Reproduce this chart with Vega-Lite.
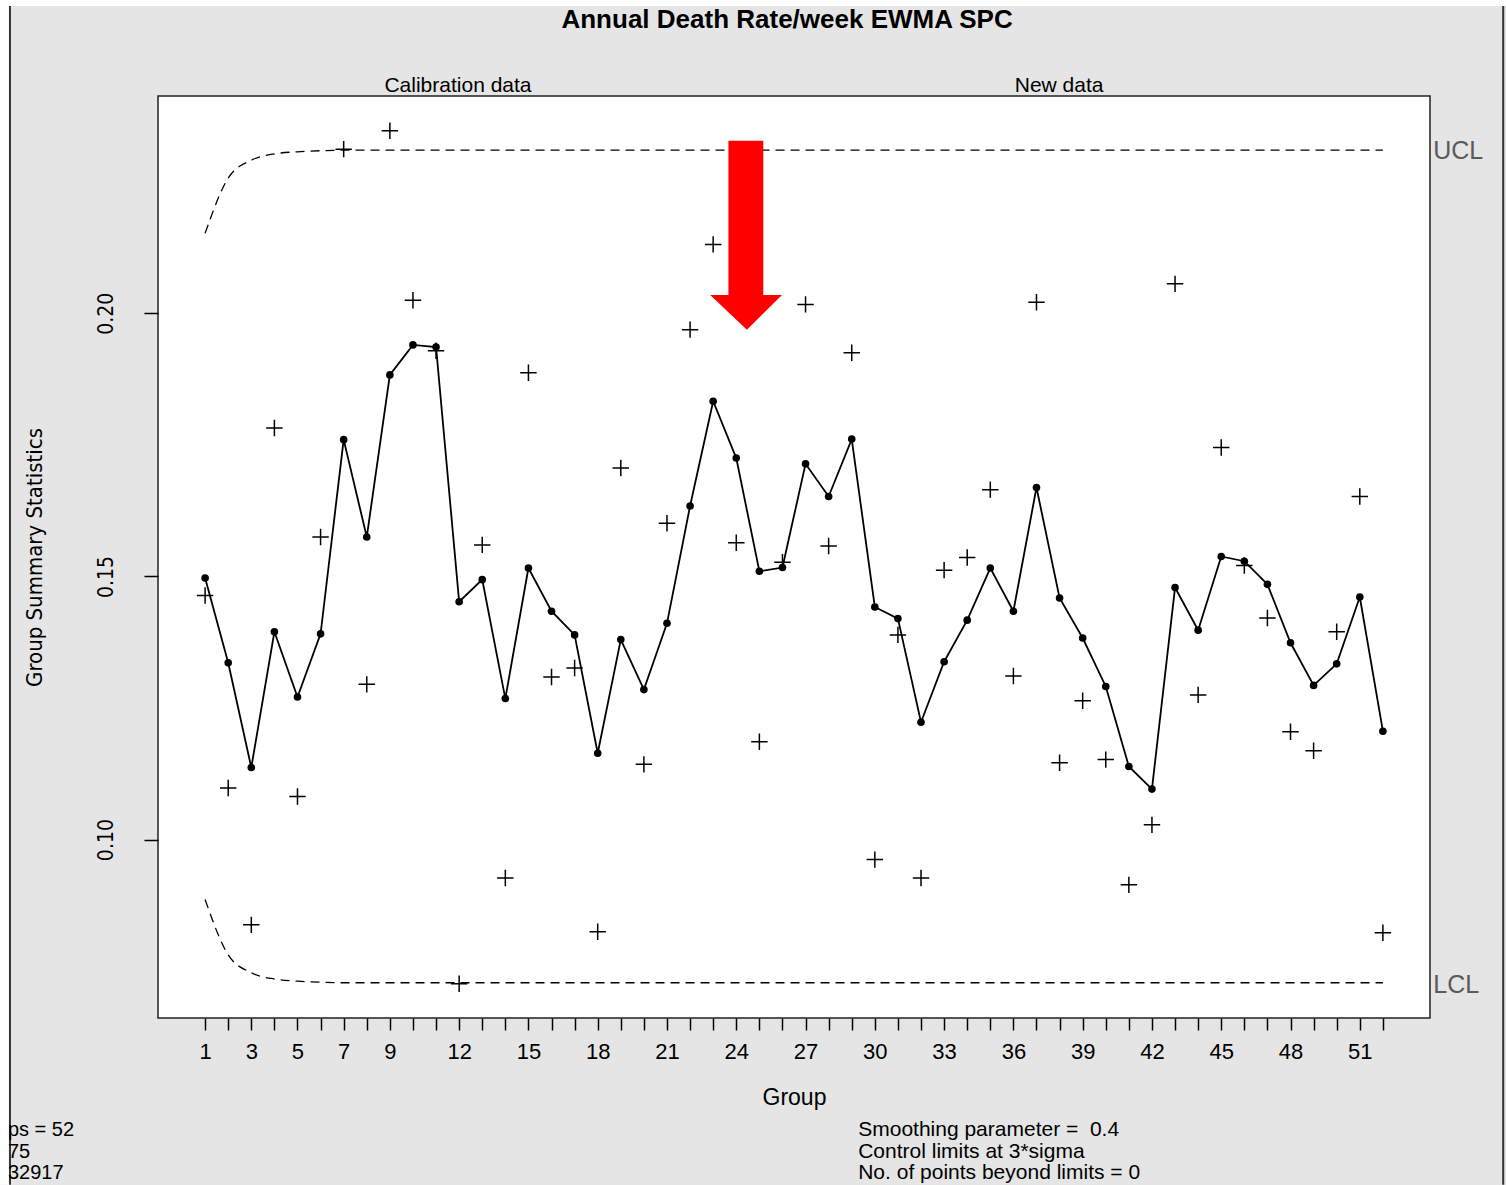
{
  "$schema": "https://vega.github.io/schema/vega-lite/v6.json",
  "width": 1272,
  "height": 922,
  "autosize": {"type": "none"},
  "padding": {"left": 158, "top": 96, "right": 76, "bottom": 167},
  "background": "#e5e5e5",
  "datasets": {
    "stats": [
      {"group": 1, "stat": 0.1464, "ewma": 0.1497, "ucl": 0.2152, "lcl": 0.0886},
      {"group": 2, "stat": 0.1098, "ewma": 0.1336, "ucl": 0.2257, "lcl": 0.0781},
      {"group": 3, "stat": 0.0838, "ewma": 0.1137, "ucl": 0.2291, "lcl": 0.0747},
      {"group": 4, "stat": 0.1782, "ewma": 0.1395, "ucl": 0.2303, "lcl": 0.0735},
      {"group": 5, "stat": 0.1082, "ewma": 0.1271, "ucl": 0.2307, "lcl": 0.0731},
      {"group": 6, "stat": 0.1575, "ewma": 0.1391, "ucl": 0.2309, "lcl": 0.0729},
      {"group": 7, "stat": 0.2312, "ewma": 0.1760, "ucl": 0.2310, "lcl": 0.0728},
      {"group": 8, "stat": 0.1295, "ewma": 0.1575, "ucl": 0.2310, "lcl": 0.0728},
      {"group": 9, "stat": 0.2347, "ewma": 0.1883, "ucl": 0.2310, "lcl": 0.0728},
      {"group": 10, "stat": 0.2025, "ewma": 0.1940, "ucl": 0.2310, "lcl": 0.0728},
      {"group": 11, "stat": 0.1929, "ewma": 0.1936, "ucl": 0.2310, "lcl": 0.0728},
      {"group": 12, "stat": 0.0726, "ewma": 0.1452, "ucl": 0.2310, "lcl": 0.0728},
      {"group": 13, "stat": 0.1560, "ewma": 0.1494, "ucl": 0.2310, "lcl": 0.0728},
      {"group": 14, "stat": 0.0927, "ewma": 0.1268, "ucl": 0.2310, "lcl": 0.0728},
      {"group": 15, "stat": 0.1887, "ewma": 0.1516, "ucl": 0.2310, "lcl": 0.0728},
      {"group": 16, "stat": 0.1309, "ewma": 0.1434, "ucl": 0.2310, "lcl": 0.0728},
      {"group": 17, "stat": 0.1326, "ewma": 0.1389, "ucl": 0.2310, "lcl": 0.0728},
      {"group": 18, "stat": 0.0825, "ewma": 0.1164, "ucl": 0.2310, "lcl": 0.0728},
      {"group": 19, "stat": 0.1706, "ewma": 0.1380, "ucl": 0.2310, "lcl": 0.0728},
      {"group": 20, "stat": 0.1143, "ewma": 0.1285, "ucl": 0.2310, "lcl": 0.0728},
      {"group": 21, "stat": 0.1601, "ewma": 0.1411, "ucl": 0.2310, "lcl": 0.0728},
      {"group": 22, "stat": 0.1969, "ewma": 0.1634, "ucl": 0.2310, "lcl": 0.0728},
      {"group": 23, "stat": 0.2131, "ewma": 0.1833, "ucl": 0.2310, "lcl": 0.0728},
      {"group": 24, "stat": 0.1564, "ewma": 0.1725, "ucl": 0.2310, "lcl": 0.0728},
      {"group": 25, "stat": 0.1186, "ewma": 0.1510, "ucl": 0.2310, "lcl": 0.0728},
      {"group": 26, "stat": 0.1527, "ewma": 0.1517, "ucl": 0.2310, "lcl": 0.0728},
      {"group": 27, "stat": 0.2017, "ewma": 0.1714, "ucl": 0.2310, "lcl": 0.0728},
      {"group": 28, "stat": 0.1558, "ewma": 0.1652, "ucl": 0.2310, "lcl": 0.0728},
      {"group": 29, "stat": 0.1925, "ewma": 0.1761, "ucl": 0.2310, "lcl": 0.0728},
      {"group": 30, "stat": 0.0962, "ewma": 0.1442, "ucl": 0.2310, "lcl": 0.0728},
      {"group": 31, "stat": 0.1389, "ewma": 0.1420, "ucl": 0.2310, "lcl": 0.0728},
      {"group": 32, "stat": 0.0927, "ewma": 0.1223, "ucl": 0.2310, "lcl": 0.0728},
      {"group": 33, "stat": 0.1512, "ewma": 0.1338, "ucl": 0.2310, "lcl": 0.0728},
      {"group": 34, "stat": 0.1536, "ewma": 0.1417, "ucl": 0.2310, "lcl": 0.0728},
      {"group": 35, "stat": 0.1665, "ewma": 0.1516, "ucl": 0.2310, "lcl": 0.0728},
      {"group": 36, "stat": 0.1311, "ewma": 0.1434, "ucl": 0.2310, "lcl": 0.0728},
      {"group": 37, "stat": 0.2021, "ewma": 0.1669, "ucl": 0.2310, "lcl": 0.0728},
      {"group": 38, "stat": 0.1146, "ewma": 0.1459, "ucl": 0.2310, "lcl": 0.0728},
      {"group": 39, "stat": 0.1264, "ewma": 0.1383, "ucl": 0.2310, "lcl": 0.0728},
      {"group": 40, "stat": 0.1152, "ewma": 0.1291, "ucl": 0.2310, "lcl": 0.0728},
      {"group": 41, "stat": 0.0914, "ewma": 0.1139, "ucl": 0.2310, "lcl": 0.0728},
      {"group": 42, "stat": 0.1028, "ewma": 0.1096, "ucl": 0.2310, "lcl": 0.0728},
      {"group": 43, "stat": 0.2056, "ewma": 0.1479, "ucl": 0.2310, "lcl": 0.0728},
      {"group": 44, "stat": 0.1275, "ewma": 0.1398, "ucl": 0.2310, "lcl": 0.0728},
      {"group": 45, "stat": 0.1745, "ewma": 0.1538, "ucl": 0.2310, "lcl": 0.0728},
      {"group": 46, "stat": 0.1521, "ewma": 0.1529, "ucl": 0.2310, "lcl": 0.0728},
      {"group": 47, "stat": 0.1421, "ewma": 0.1485, "ucl": 0.2310, "lcl": 0.0728},
      {"group": 48, "stat": 0.1205, "ewma": 0.1374, "ucl": 0.2310, "lcl": 0.0728},
      {"group": 49, "stat": 0.1169, "ewma": 0.1293, "ucl": 0.2310, "lcl": 0.0728},
      {"group": 50, "stat": 0.1395, "ewma": 0.1334, "ucl": 0.2310, "lcl": 0.0728},
      {"group": 51, "stat": 0.1652, "ewma": 0.1461, "ucl": 0.2310, "lcl": 0.0728},
      {"group": 52, "stat": 0.0823, "ewma": 0.1206, "ucl": 0.2310, "lcl": 0.0728}
    ],
    "frameStrips": [
      {"group": -7.88, "group2": -7.45, "val": 0.2596, "val2": 0.0344},
      {"group": -7.88, "group2": 57.34, "val": 0.2596, "val2": 0.2584}
    ],
    "frameLines": [
      {"group": -7.45, "val": 0.2584, "val2": 0.0344},
      {"group": 57.21, "val": 0.2584, "val2": 0.0344}
    ],
    "arrowShaft": [
      {"group": 23.66, "group2": 25.17, "val": 0.2035, "val2": 0.2328}
    ],
    "arrowHead": [
      {"group": 22.87, "val": 0.2035, "val2": 0.2035},
      {"group": 24.46, "val": 0.1969, "val2": 0.2035},
      {"group": 25.98, "val": 0.2035, "val2": 0.2035}
    ],
    "titleText": [
      {"group": 26.2, "val": 0.2557, "label": "Annual Death Rate/week EWMA SPC"}
    ],
    "panels": [
      {"group": 11.95, "val": 0.2432, "label": "Calibration data"},
      {"group": 37.98, "val": 0.2432, "label": "New data"}
    ],
    "limitLabels": [
      {"group": 54.18, "val": 0.2308, "label": "UCL"},
      {"group": 54.18, "val": 0.0723, "label": "LCL"}
    ],
    "stats1": [
      {"group": -7.54, "val": 0.0449, "label": "ps = 52"},
      {"group": -7.54, "val": 0.0407, "label": "75"},
      {"group": -7.54, "val": 0.0366, "label": "32917"}
    ],
    "stats2": [
      {"group": 29.28, "val": 0.0449, "label": "Smoothing parameter =\u00a0 0.4"},
      {"group": 29.28, "val": 0.0407, "label": "Control limits at 3*sigma"},
      {"group": 29.28, "val": 0.0366, "label": "No. of points beyond limits = 0"}
    ]
  },
  "data": {"name": "stats"},
  "encoding": {
    "x": {
      "field": "group",
      "type": "quantitative",
      "scale": {"domain": [-1.04, 54.04], "nice": false, "zero": false},
      "axis": {
        "values": [1,2,3,4,5,6,7,8,9,10,11,12,13,14,15,16,17,18,19,20,21,22,23,24,25,26,27,28,29,30,31,32,33,34,35,36,37,38,39,40,41,42,43,44,45,46,47,48,49,50,51,52],
        "labelExpr": "datum.value <= 9 ? (datum.value % 2 == 1 ? datum.label : '') : (datum.value % 3 == 0 ? datum.label : '')",
        "grid": false,
        "domain": false,
        "tickSize": 12,
        "tickWidth": 1.5,
        "tickColor": "#000000",
        "labelFont": "Liberation Sans",
        "labelFontSize": 22,
        "labelColor": "#000000",
        "labelPadding": 21,
        "labelBaseline": "middle",
        "labelFlush": false,
        "labelOverlap": false,
        "title": "Group",
        "titleFont": "Liberation Sans",
        "titleFontSize": 23,
        "titleFontWeight": "normal",
        "titleColor": "#000000",
        "titleX": 636,
        "titleY": 79,
        "titleBaseline": "middle",
        "titleAlign": "center"
      }
    },
    "y": {
      "field": "val",
      "type": "quantitative",
      "scale": {"domain": [0.0661, 0.2413], "nice": false, "zero": false},
      "axis": {
        "values": [0.10, 0.15, 0.20],
        "format": ".2f",
        "grid": false,
        "domain": false,
        "tickSize": 14,
        "tickWidth": 1.5,
        "tickColor": "#000000",
        "labelAngle": -90,
        "labelAlign": "center",
        "labelBaseline": "bottom",
        "labelPadding": 28,
        "labelFont": "Liberation Sans Narrow, DejaVu Sans Condensed, Liberation Sans",
        "labelFontSize": 21,
        "labelColor": "#000000",
        "title": "Group Summary Statistics",
        "titleFont": "Liberation Sans Narrow, DejaVu Sans Condensed, Liberation Sans",
        "titleFontSize": 22,
        "titleFontWeight": "normal",
        "titleColor": "#000000",
        "titleAngle": -90,
        "titleX": -124,
        "titleY": 461,
        "titleAlign": "center",
        "titleBaseline": "middle"
      }
    }
  },
  "layer": [
    {
      "data": {"name": "frameStrips"},
      "mark": {"type": "rect", "color": "#ffffff", "opacity": 1},
      "encoding": {
        "x2": {"field": "group2"},
        "y2": {"field": "val2"}
      }
    },
    {
      "data": {"name": "frameLines"},
      "mark": {"type": "rule", "color": "#333333", "strokeWidth": 2, "opacity": 1},
      "encoding": {
        "y2": {"field": "val2"}
      }
    },
    {
      "data": {"values": [{}]},
      "mark": {"type": "rule", "color": "#000000", "strokeWidth": 1.2},
      "encoding": {
        "x": {"datum": -1.04},
        "x2": {"datum": 54.04},
        "y": {"datum": 0.1519}
      }
    },
    {
      "data": {"values": [{}]},
      "mark": {"type": "rule", "color": "#000000", "strokeWidth": 1.6, "strokeDash": [2, 3]},
      "encoding": {
        "x": {"datum": 24.5},
        "y": {"datum": 0.0661},
        "y2": {"datum": 0.2413}
      }
    },
    {
      "transform": [{"fold": ["ucl"], "as": ["series", "val"]}],
      "mark": {"type": "line", "color": "#000000", "strokeWidth": 1.3, "strokeDash": [9, 6], "interpolate": "monotone"}
    },
    {
      "transform": [{"fold": ["lcl"], "as": ["series", "val"]}],
      "mark": {"type": "line", "color": "#000000", "strokeWidth": 1.3, "strokeDash": [9, 6], "interpolate": "monotone"}
    },
    {
      "transform": [{"fold": ["ewma"], "as": ["series", "val"]}],
      "mark": {"type": "line", "color": "#000000", "strokeWidth": 1.8}
    },
    {
      "transform": [{"fold": ["ewma"], "as": ["series", "val"]}],
      "mark": {"type": "point", "shape": "circle", "filled": true, "size": 58, "color": "#000000", "opacity": 1}
    },
    {
      "transform": [{"fold": ["stat"], "as": ["series", "val"]}],
      "mark": {"type": "point", "shape": "M-1,0H1M0,-1V1", "filled": false, "size": 270, "stroke": "#000000", "strokeWidth": 1.5, "opacity": 1}
    },
    {
      "data": {"name": "arrowShaft"},
      "mark": {"type": "rect", "color": "#ff0000"},
      "encoding": {
        "x2": {"field": "group2"},
        "y2": {"field": "val2"}
      }
    },
    {
      "data": {"name": "arrowHead"},
      "mark": {"type": "area", "color": "#ff0000", "opacity": 1},
      "encoding": {
        "y2": {"field": "val2"}
      }
    },
    {
      "data": {"name": "titleText"},
      "mark": {"type": "text", "font": "Liberation Sans", "fontSize": 26, "fontWeight": "bold", "color": "#000000", "align": "center", "baseline": "middle"},
      "encoding": {"text": {"field": "label"}}
    },
    {
      "data": {"name": "panels"},
      "mark": {"type": "text", "font": "Liberation Sans", "fontSize": 21, "color": "#000000", "align": "center", "baseline": "middle"},
      "encoding": {"text": {"field": "label"}}
    },
    {
      "data": {"name": "limitLabels"},
      "mark": {"type": "text", "font": "Liberation Sans", "fontSize": 25, "color": "#5a5a5a", "align": "left", "baseline": "middle"},
      "encoding": {"text": {"field": "label"}}
    },
    {
      "data": {"name": "stats1"},
      "mark": {"type": "text", "font": "Liberation Sans", "fontSize": 20, "color": "#000000", "align": "left", "baseline": "middle"},
      "encoding": {"text": {"field": "label"}}
    },
    {
      "data": {"name": "stats2"},
      "mark": {"type": "text", "font": "Liberation Sans", "fontSize": 21, "color": "#000000", "align": "left", "baseline": "middle"},
      "encoding": {"text": {"field": "label"}}
    }
  ],
  "config": {
    "view": {"fill": "#ffffff", "stroke": "#222222", "strokeWidth": 1.5}
  }
}
